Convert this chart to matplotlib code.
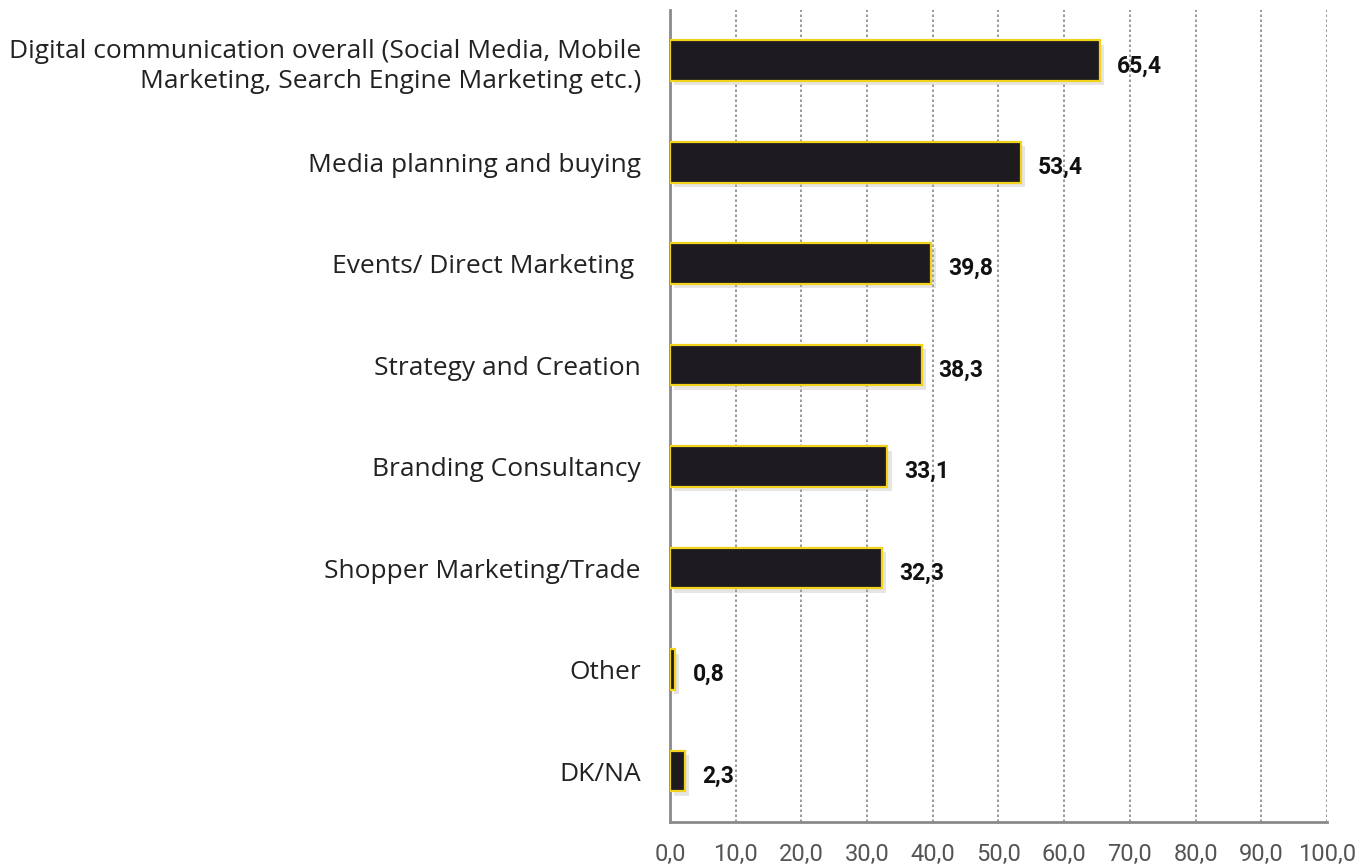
import matplotlib.pyplot as plt
import matplotlib.patheffects as pe
from matplotlib.ticker import FuncFormatter

# categories listed top to bottom
categories = [
    "Digital communication overall (Social Media, Mobile\nMarketing, Search Engine Marketing etc.)",
    "Media planning and buying",
    "Events/ Direct Marketing ",
    "Strategy and Creation",
    "Branding Consultancy",
    "Shopper Marketing/Trade",
    "Other",
    "DK/NA",
]
values = [65.4, 53.4, 39.8, 38.3, 33.1, 32.3, 0.8, 2.3]
value_labels = ["65,4", "53,4", "39,8", "38,3", "33,1", "32,3", "0,8", "2,3"]
xticks = [0, 10, 20, 30, 40, 50, 60, 70, 80, 90, 100]

fig = plt.figure(figsize=(13.55, 8.67), dpi=100)
ax = fig.add_axes([0.4945, 0.052, 0.4848, 0.9365])

ypos = list(range(len(categories)))[::-1]
bars = ax.barh(ypos, values, height=0.4, color="#1d1b20", edgecolor="#f2d21b",
               linewidth=1.6, zorder=3)
for b in bars:
    b.set_path_effects([pe.SimplePatchShadow(offset=(3, -3), shadow_rgbFace="#aaaaaa", alpha=0.3),
                        pe.Normal()])

for y, v, lab in zip(ypos, values, value_labels):
    ax.text(v + 2.6, y - 0.05, lab, va="center", ha="left", fontsize=16.5,
            fontweight="bold", family=["Roboto", "DejaVu Sans"],
            color="#111111", zorder=4)

ax.set_xlim(0, 100)
ax.set_ylim(-0.5, len(categories) - 0.5)
ax.set_xticks(xticks)
ax.xaxis.set_major_formatter(FuncFormatter(lambda x, p: f"{x:.1f}".replace(".", ",")))
ax.tick_params(axis="x", length=0, pad=15, labelcolor="#555555")
ax.tick_params(axis="y", length=0, pad=21, labelcolor="#222222")
ax.set_yticks(ypos)
ax.set_yticklabels(categories, family=["Open Sans", "DejaVu Sans"], ha="right",
                   linespacing=1.3, fontsize=19)
ax.set_xticklabels(ax.get_xticklabels(), family=["Roboto", "DejaVu Sans"], fontsize=17)

ax.grid(axis="x", linestyle=(0, (1.5, 1.5)), color="#888888", linewidth=1.2, zorder=0)
ax.set_axisbelow(True)
for s in ["top", "right"]:
    ax.spines[s].set_visible(False)
for s in ["left", "bottom"]:
    ax.spines[s].set_color("#8a8a8a")
    ax.spines[s].set_linewidth(2)

fig.savefig("out.png", dpi=100)
